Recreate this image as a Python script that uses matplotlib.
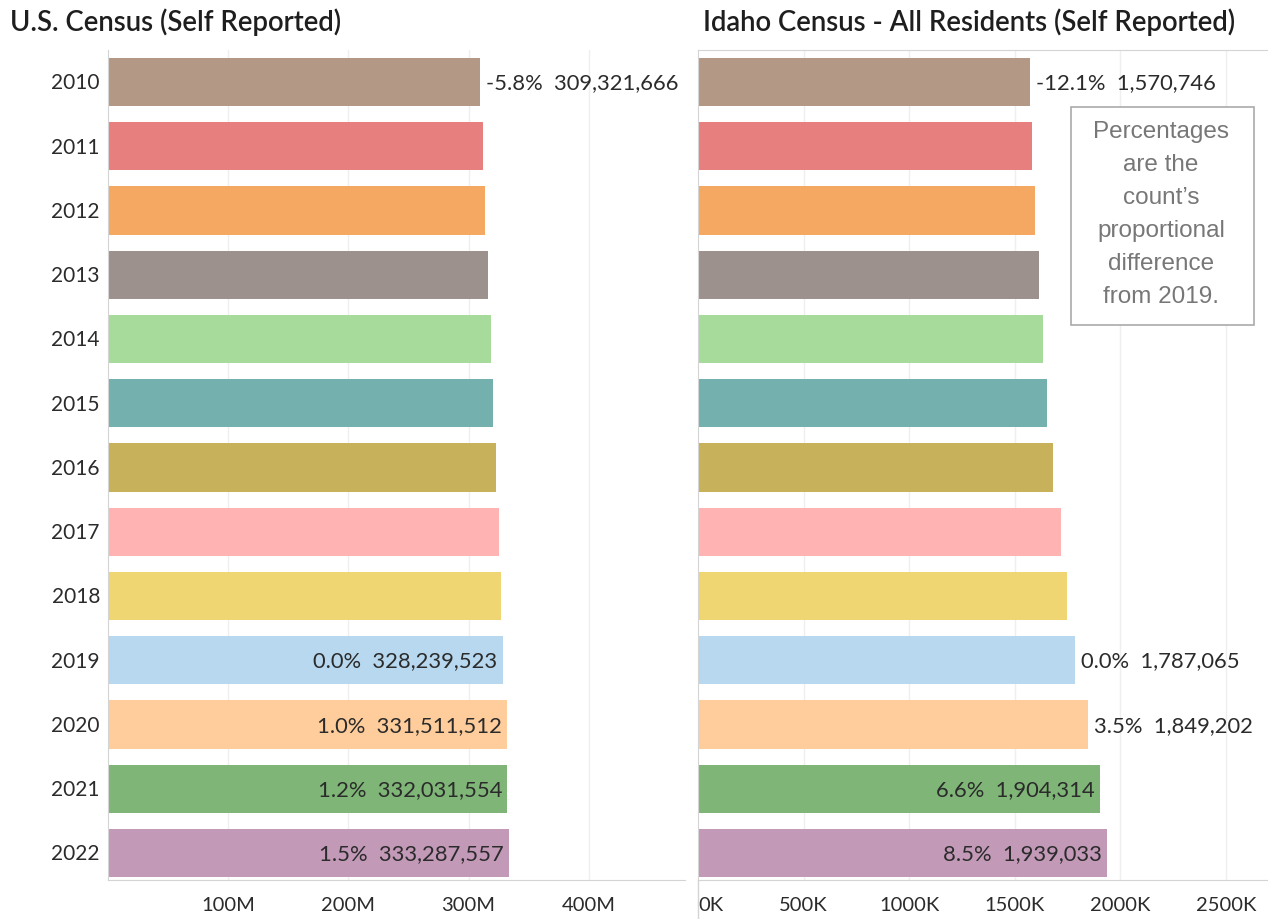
import matplotlib
matplotlib.use("Agg")
import matplotlib.pyplot as plt
from matplotlib.lines import Line2D
from matplotlib.patches import Rectangle

# ---------------- data ----------------
years = ["2010", "2011", "2012", "2013", "2014", "2015", "2016",
         "2017", "2018", "2019", "2020", "2021", "2022"]
us_population = [309321666, 311556874, 313830990, 315993715, 318301008,
                 320635163, 322941311, 324985539, 326687501, 328239523,
                 331511512, 332031554, 333287557]
idaho_population = [1570746, 1583000, 1597000, 1615000, 1635000, 1654000,
                    1682000, 1720000, 1749000, 1787065, 1849202, 1904314,
                    1939033]
# percent difference from 2019 (shown only for labelled bars)
us_pct = ["-5.8%", None, None, None, None, None, None, None, None,
          "0.0%", "1.0%", "1.2%", "1.5%"]
idaho_pct = ["-12.1%", None, None, None, None, None, None, None, None,
             "0.0%", "3.5%", "6.6%", "8.5%"]
us_ticks = [100e6, 200e6, 300e6, 400e6]
us_tick_labels = ["100M", "200M", "300M", "400M"]
idaho_ticks = [0, 500e3, 1000e3, 1500e3, 2000e3, 2500e3]
idaho_tick_labels = ["0K", "500K", "1000K", "1500K", "2000K", "2500K"]
bar_colors = ["#B49886", "#E87F7F", "#F4A862", "#9D918E", "#A6DB9C",
              "#74B0AE", "#C7B15B", "#FFB3B3", "#EFD672", "#B7D8EF",
              "#FFCD9B", "#7FB677", "#C399B8"]

# ---------------- layout ----------------
W, H = 1268, 919
fig = plt.figure(figsize=(W / 100, H / 100), dpi=100)
plt.rcParams['font.family'] = ['Lato', 'DejaVu Sans']

TXT = "#2b2b2b"
GRID = "#efefef"
AXL = "#d4d4d4"
LABEL_FS = 15.8
YEAR_FS = 15
TICK_FS = 14.5


def fx(px):
    return px / W


def fy(py):
    return 1 - py / H


top_px, bot_px = 50, 880
ax1 = fig.add_axes([fx(108), fy(bot_px), fx(685 - 108), fy(top_px) - fy(bot_px)])
ax2 = fig.add_axes([fx(698), fy(bot_px), fx(W - 698), fy(top_px) - fy(bot_px)])

pos = list(range(len(years)))
ylim = (12 + 27 / 64.25, -32 / 64.25)


def draw_panel(ax, vals, pcts, xmax, ticks, tick_labels, inside_from):
    ax.barh(pos, vals, height=0.75, color=bar_colors, zorder=2)
    ax.set_xlim(0, xmax)
    ax.set_ylim(*ylim)
    ax.set_xticks(ticks)
    ax.set_xticklabels(tick_labels)
    ax.tick_params(axis='x', length=0, pad=12, labelsize=TICK_FS, labelcolor=TXT)
    ax.set_yticks([])
    for t in ticks:
        if t > 0:
            ax.axvline(t, color=GRID, lw=1, zorder=0)
    for s in ax.spines.values():
        s.set_visible(False)
    ax.spines['bottom'].set_visible(True)
    ax.spines['bottom'].set_color(AXL)
    ax.spines['left'].set_visible(True)
    ax.spines['left'].set_color(AXL)
    # data labels
    px_per_unit = (ax.get_position().width * W) / xmax
    for i, (v, p) in enumerate(zip(vals, pcts)):
        if p is None:
            continue
        txt = f"{p}  {v:,.0f}"
        if i >= inside_from:
            ax.text(v - 5 / px_per_unit, i + 0.02, txt, ha='right', va='center',
                    fontsize=LABEL_FS, color=TXT, zorder=3)
        else:
            ax.text(v + 6 / px_per_unit, i + 0.02, txt, ha='left', va='center',
                    fontsize=LABEL_FS, color=TXT, zorder=3)


draw_panel(ax1, us_population, us_pct, 480e6, us_ticks, us_tick_labels, 9)
draw_panel(ax2, idaho_population, idaho_pct, 2.7e6, idaho_ticks,
           idaho_tick_labels, 11)

# first right tick label left-aligned as in the reference
lbl0 = ax2.get_xticklabels()[0]
lbl0.set_ha('left')

# year labels
for i, y in enumerate(years):
    ax1.text(-8 / (577 / 480e6), i + 0.02, y, ha='right', va='center',
             fontsize=YEAR_FS, color=TXT)

# right panel frame extras
ax2.spines['top'].set_visible(True)
ax2.spines['top'].set_color(AXL)
fig.add_artist(Line2D([fx(698), fx(698)], [0, fy(bot_px)], color=AXL, lw=1))

# titles
fig.text(fx(10), fy(22), "U.S. Census (Self Reported)", ha='left', va='center',
         fontsize=19.8, color="#1e1e1e", fontweight='semibold')
fig.text(fx(703), fy(22), "Idaho Census - All Residents (Self Reported)",
         ha='left', va='center', fontsize=19.8, color="#1e1e1e",
         fontweight='semibold')

# annotation box
fig.add_artist(Rectangle((fx(1071), fy(325)), fx(1254 - 1071), fy(107) - fy(325),
                         fill=True, facecolor='white', edgecolor='#aaaaaa', lw=1.2,
                         transform=fig.transFigure, zorder=5))
note_lines = ["Percentages", "are the", "count\u2019s", "proportional",
              "difference", "from 2019."]
for k, line in enumerate(note_lines):
    fig.text(fx(1161), fy(132 + k * 33), line, ha='center', va='center',
             fontsize=17.5, color='#777777', family='Liberation Sans', zorder=6)

fig.savefig("out.png", dpi=100)
